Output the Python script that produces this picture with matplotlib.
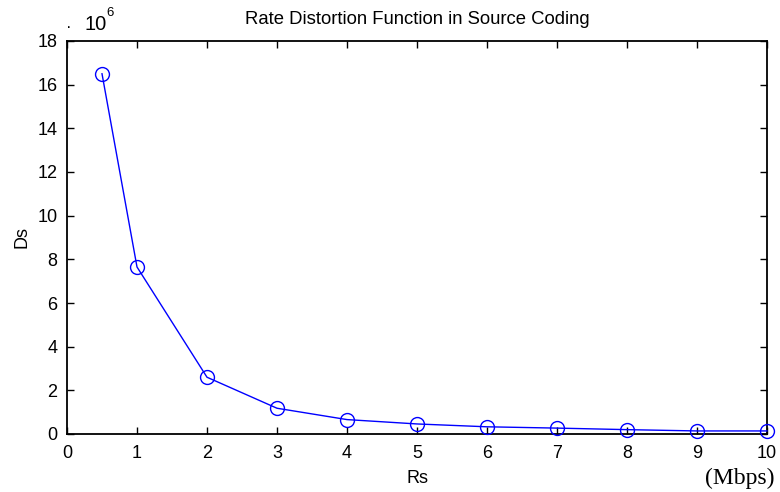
import matplotlib
matplotlib.use("Agg")
import matplotlib.pyplot as plt

# Datos (Ds en unidades de 10^6)
rs = [0.5, 1, 2, 3, 4, 5, 6, 7, 8, 9, 10]
ds = [16.5, 7.65, 2.6, 1.18, 0.66, 0.46, 0.33, 0.27, 0.2, 0.14, 0.14]

x_ticks = list(range(0, 11))
y_ticks = list(range(0, 19, 2))

plt.rcParams['font.family'] = ['Liberation Sans', 'DejaVu Sans']

fig = plt.figure(figsize=(7.8, 4.92), dpi=100)
ax = fig.add_axes([67 / 780, 58 / 492, 700 / 780, 393 / 492])

ax.plot(rs, ds, color='blue', linewidth=1.0, marker='o', markersize=10,
        markerfacecolor='none', markeredgecolor='blue', markeredgewidth=1.0,
        clip_on=False, zorder=3)

ax.set_xlim(0, 10)
ax.set_ylim(0, 18)
ax.set_xticks(x_ticks)
ax.set_yticks(y_ticks)
ax.tick_params(direction='in', top=True, right=True, length=5, width=1,
               labelsize=13)
ax.tick_params(axis='x', pad=8)
ax.tick_params(axis='y', pad=7)
for s in ax.spines.values():
    s.set_linewidth(1.3)

ax.set_title("Rate Distortion Function in Source Coding", fontsize=13.3, pad=12)
ax.set_xlabel("Rs", fontsize=13, labelpad=6)
ax.set_ylabel("Ds", fontsize=13, labelpad=5)

# Multiplicador de escala estilo MATLAB
fig.text(69 / 780, 1 - 27 / 492, "·", fontsize=12, ha='center', va='center')
fig.text(84 / 780, 1 - 25 / 492, "10", fontsize=14.5, ha='left', va='center')
fig.text(106 / 780, 1 - 13 / 492, "6", fontsize=9.5, ha='left', va='center')

fig.text(740 / 780, 1 - 478 / 492, "(Mbps)", fontsize=17, ha='center',
         va='center', family=['Liberation Serif', 'DejaVu Serif'])

fig.savefig("out.png", dpi=100)
